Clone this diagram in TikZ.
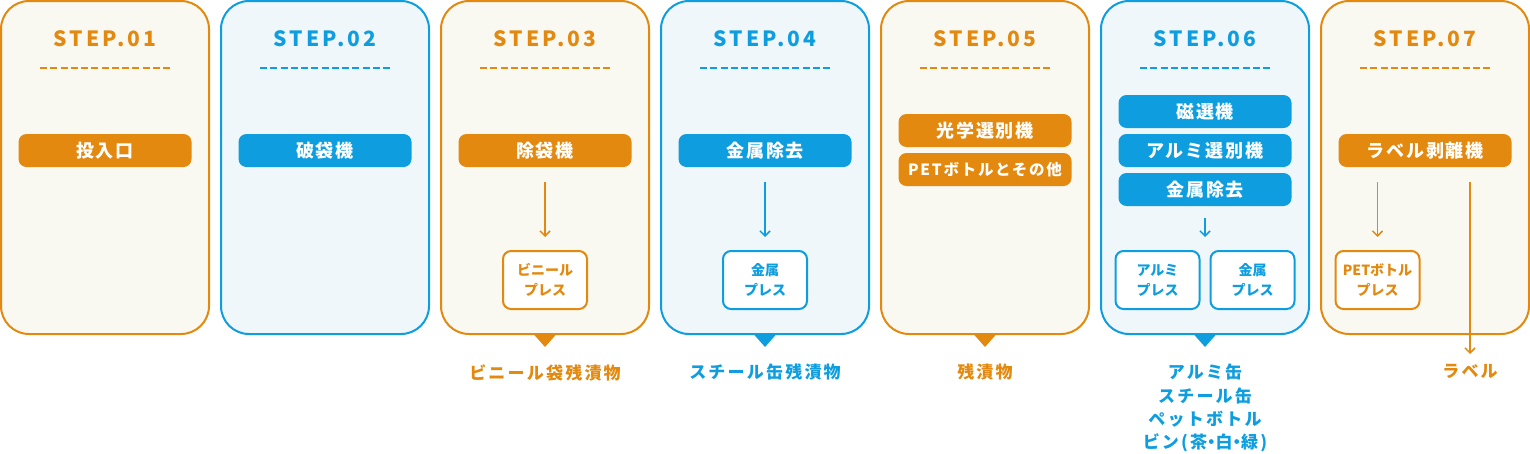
\documentclass[tikz,border=0pt]{standalone}
\usepackage{fontspec}
\setmainfont{Noto Sans CJK JP}
\newfontfamily\stepfont{Noto Sans CJK JP}[LetterSpace=15]
\newfontfamily\btnfont{Noto Sans CJK JP}[LetterSpace=11]
\newfontfamily\lblfont{Noto Sans CJK JP}[LetterSpace=13]
\newcommand\hdot{{\addfontfeature{RawFeature=+palt}・}}
\usetikzlibrary{arrows.meta}
\definecolor{org}{HTML}{E3890F}
\definecolor{blu}{HTML}{0E9EE0}
\definecolor{orgbg}{HTML}{FAF9F1}
\definecolor{blubg}{HTML}{EFF7FB}
\tikzset{
  panel/.style 2 args={draw=#1,fill=#2,line width=2pt,rounded corners=28pt,
    minimum width=208pt,minimum height=333pt,inner sep=0pt},
  steptitle/.style={text=#1,inner sep=0pt,font=\stepfont\bfseries\fontsize{21}{24}\selectfont},
  btn/.style={fill=#1,text=white,rounded corners=8pt,minimum width=173pt,
    minimum height=33pt,inner sep=0pt,font=\btnfont\bfseries\fontsize{18}{20}\selectfont},
  press/.style={draw=#1,fill=white,text=#1,line width=2pt,rounded corners=8pt,
    minimum width=84pt,minimum height=58pt,inner sep=0pt,align=center,
    font=\bfseries\fontsize{14}{20}\selectfont},
  outlbl/.style={text=#1,inner sep=0pt,align=center,anchor=north,
    font=\lblfont\bfseries\fontsize{17}{23.3}\selectfont},
  arr/.style={draw=#1,line width=1.5pt,-{Straight Barb[length=5pt,width=10pt]}}
}
\begin{document}
\begin{tikzpicture}[x=1pt,y=-1pt]
\useasboundingbox (0,0) rectangle (1530,453);
% panels, titles, dashed rules
\foreach \c/\b [count=\i] in {org/orgbg,blu/blubg,org/orgbg,blu/blubg,org/orgbg,blu/blubg,org/orgbg} {
  \node[panel={\c}{\b}] (p\i) at ({105+220*(\i-1)},167.5) {};
  \node[steptitle=\c,anchor=base] (t\i) at ({105+220*(\i-1)},46) {STEP.0\i};
  \draw[\c,line width=2pt,dash pattern=on 7pt off 3.25pt] ({40+220*(\i-1)},68) -- ++(130,0);
}
% pointers under the panels
\foreach \c/\i in {org/3,blu/4,org/5,blu/6}
  \fill[\c] ([xshift=-11.5pt,yshift=1pt]p\i.south) -- ([xshift=11.5pt,yshift=1pt]p\i.south)
    -- ([yshift=-12pt]p\i.south) -- cycle;
% machines
\node[btn=org] (b1) at (105,150.5) {投入口};
\node[btn=blu] (b2) at (325,150.5) {破袋機};
\node[btn=org] (b3) at (545,150.5) {除袋機};
\node[btn=blu] (b4) at (765,150.5) {金属除去};
\node[btn=org] (b5a) at (985,130.5) {光学選別機};
\node[btn=org,font=\btnfont\bfseries\fontsize{15.5}{18}\selectfont] (b5b) at (985,169.5) {PETボトルとその他};
\node[btn=blu] (b6a) at (1205,111.5) {磁選機};
\node[btn=blu] (b6b) at (1205,150.5) {アルミ選別機};
\node[btn=blu] (b6c) at (1205,189.5) {金属除去};
\node[btn=org] (b7) at (1425,150.5) {ラベル剥離機};
% presses
\node[press=org] (x3) at (545,280) {ビニール\\プレス};
\node[press=blu] (x4) at (765,280) {金属\\プレス};
\node[press=blu] (x6a) at (1157.5,280) {アルミ\\プレス};
\node[press=blu] (x6b) at (1252.5,280) {金属\\プレス};
\node[press=org] (x7) at (1377.5,280) {PETボトル\\プレス};
% outputs
\node[outlbl=org] (l3) at (545,364) {ビニール袋残漬物};
\node[outlbl=blu] (l4) at (765,364) {スチール缶残漬物};
\node[outlbl=org] (l5) at (985,364) {残漬物};
\node[outlbl=blu] (l6) at (1205,364) {アルミ缶\\スチール缶\\ペットボトル\\ビン(茶\hdot 白\hdot 緑)};
\node[outlbl=org] (l7) at (1470,364) {ラベル};
\coordinate (m6) at (x6a.north -| p6);
% flows
\draw[arr=org,shorten <=15pt,shorten >=13pt] (b3) -- (x3);
\draw[arr=blu,shorten <=15pt,shorten >=13pt] (b4) -- (x4);
\draw[arr=blu,shorten <=12pt,shorten >=13pt] (b6c) -- (m6);
\draw[arr=org,shorten <=15pt,shorten >=13pt] (b7.south -| x7.north) -- (x7.north);
\draw[arr=org,shorten <=15pt,shorten >=10pt] (b7.south -| l7.north) -- (l7.north);
\end{tikzpicture}
\end{document}
